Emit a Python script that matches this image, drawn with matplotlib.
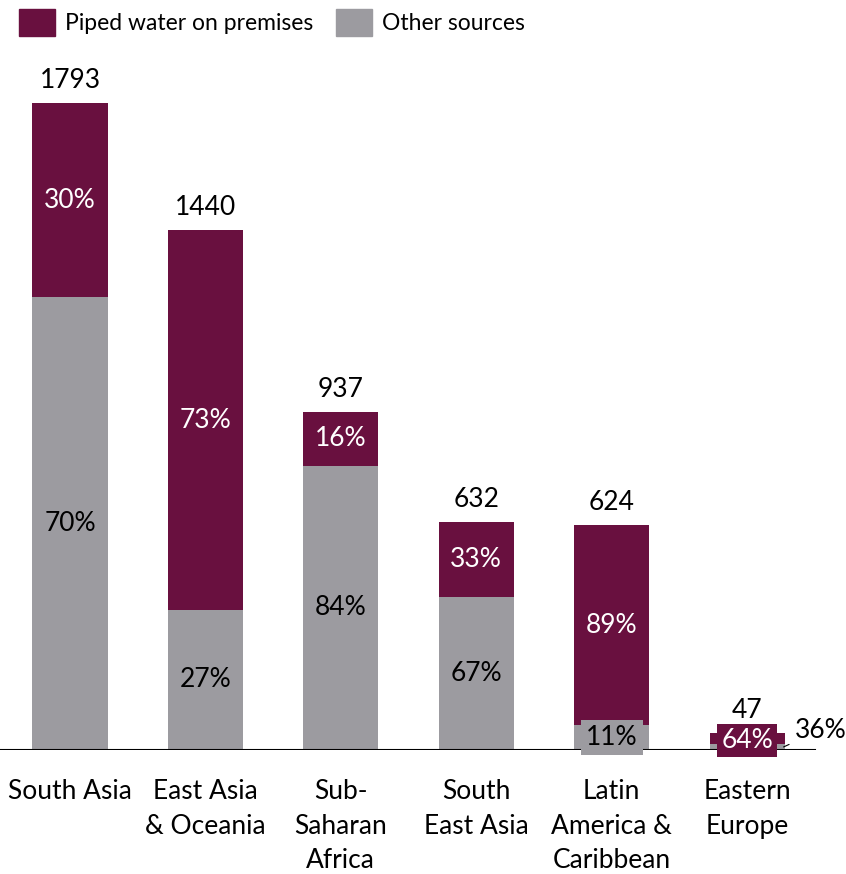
import matplotlib
matplotlib.use("Agg")
import matplotlib.pyplot as plt
from matplotlib.patches import Patch

plt.rcParams['font.family'] = ['Lato', 'DejaVu Sans']

regions = ["South Asia", "East Asia\n& Oceania", "Sub-\nSaharan\nAfrica",
           "South\nEast Asia", "Latin\nAmerica &\nCaribbean", "Eastern\nEurope"]
totals = [1793, 1440, 937, 632, 624, 47]
piped_pct = [30, 73, 16, 33, 89, 64]
other_pct = [70, 27, 84, 67, 11, 36]

piped_color = "#69103F"
other_color = "#9C9BA0"

other_vals = [t * o / 100 for t, o in zip(totals, other_pct)]
piped_vals = [t * p / 100 for t, p in zip(totals, piped_pct)]

fig = plt.figure(figsize=(8.46, 8.74), dpi=100)
ax = fig.add_axes([0.0, (874 - 750) / 874, 820 / 846, (750 - 60) / 874])

x = list(range(len(regions)))
w = 0.554
ax.bar(x, other_vals, width=w, color=other_color, zorder=2)
ax.bar(x, piped_vals, width=w, bottom=other_vals, color=piped_color, zorder=2)

ax.set_xlim(-0.517, 5.539)
ax.set_ylim(0, 1912)

fs = 19
for i in range(len(regions)):
    t = totals[i]
    o = other_vals[i]
    p = piped_vals[i]
    ax.text(i, t + 28, f"{t}", ha="center", va="bottom", fontsize=fs, color="black")
    if i == 4:
        ax.text(i, o / 2, f"{other_pct[i]}%", ha="center", va="center", fontsize=fs,
                color="black", zorder=4,
                bbox=dict(boxstyle="square,pad=0.2", fc=other_color, ec="none"))
        ax.text(i, o + p / 2, f"{piped_pct[i]}%", ha="center", va="center", fontsize=fs,
                color="white", zorder=4)
    elif i == 5:
        ax.text(i, o + p / 2 - 5, f"{piped_pct[i]}%", ha="center", va="center", fontsize=fs,
                color="white", zorder=4,
                bbox=dict(boxstyle="square,pad=0.15", fc=piped_color, ec="none"))
        ax.annotate(f"{other_pct[i]}%", xy=(i + 0.27, o / 2), xytext=(i + 0.35, 55),
                    ha="left", va="center", fontsize=fs, color="black",
                    arrowprops=dict(arrowstyle="-", color="black", lw=0.8,
                                    shrinkA=2, shrinkB=0),
                    annotation_clip=False, zorder=4)
    else:
        ax.text(i, o / 2, f"{other_pct[i]}%", ha="center", va="center", fontsize=fs,
                color="black", zorder=4)
        ax.text(i, o + p / 2, f"{piped_pct[i]}%", ha="center", va="center", fontsize=fs,
                color="white", zorder=4)

ax.axhline(0, color="black", lw=1.5, zorder=3, xmax=815 / 820)
for s in ax.spines.values():
    s.set_visible(False)
ax.set_yticks([])
ax.set_xticks(x)
ax.set_xticklabels(regions, fontsize=fs, linespacing=1.47)
ax.tick_params(axis="x", length=0, pad=21)

handles = [Patch(color=piped_color, label="Piped water on premises"),
           Patch(color=other_color, label="Other sources")]
fig.legend(handles=handles, loc="upper left", bbox_to_anchor=(0.006, 1.006), ncol=2,
           frameon=False, fontsize=16.5, handlelength=1.6, handleheight=1.5,
           handletextpad=0.4, columnspacing=1.0, borderaxespad=0.2)

fig.savefig("out.png", dpi=100)
